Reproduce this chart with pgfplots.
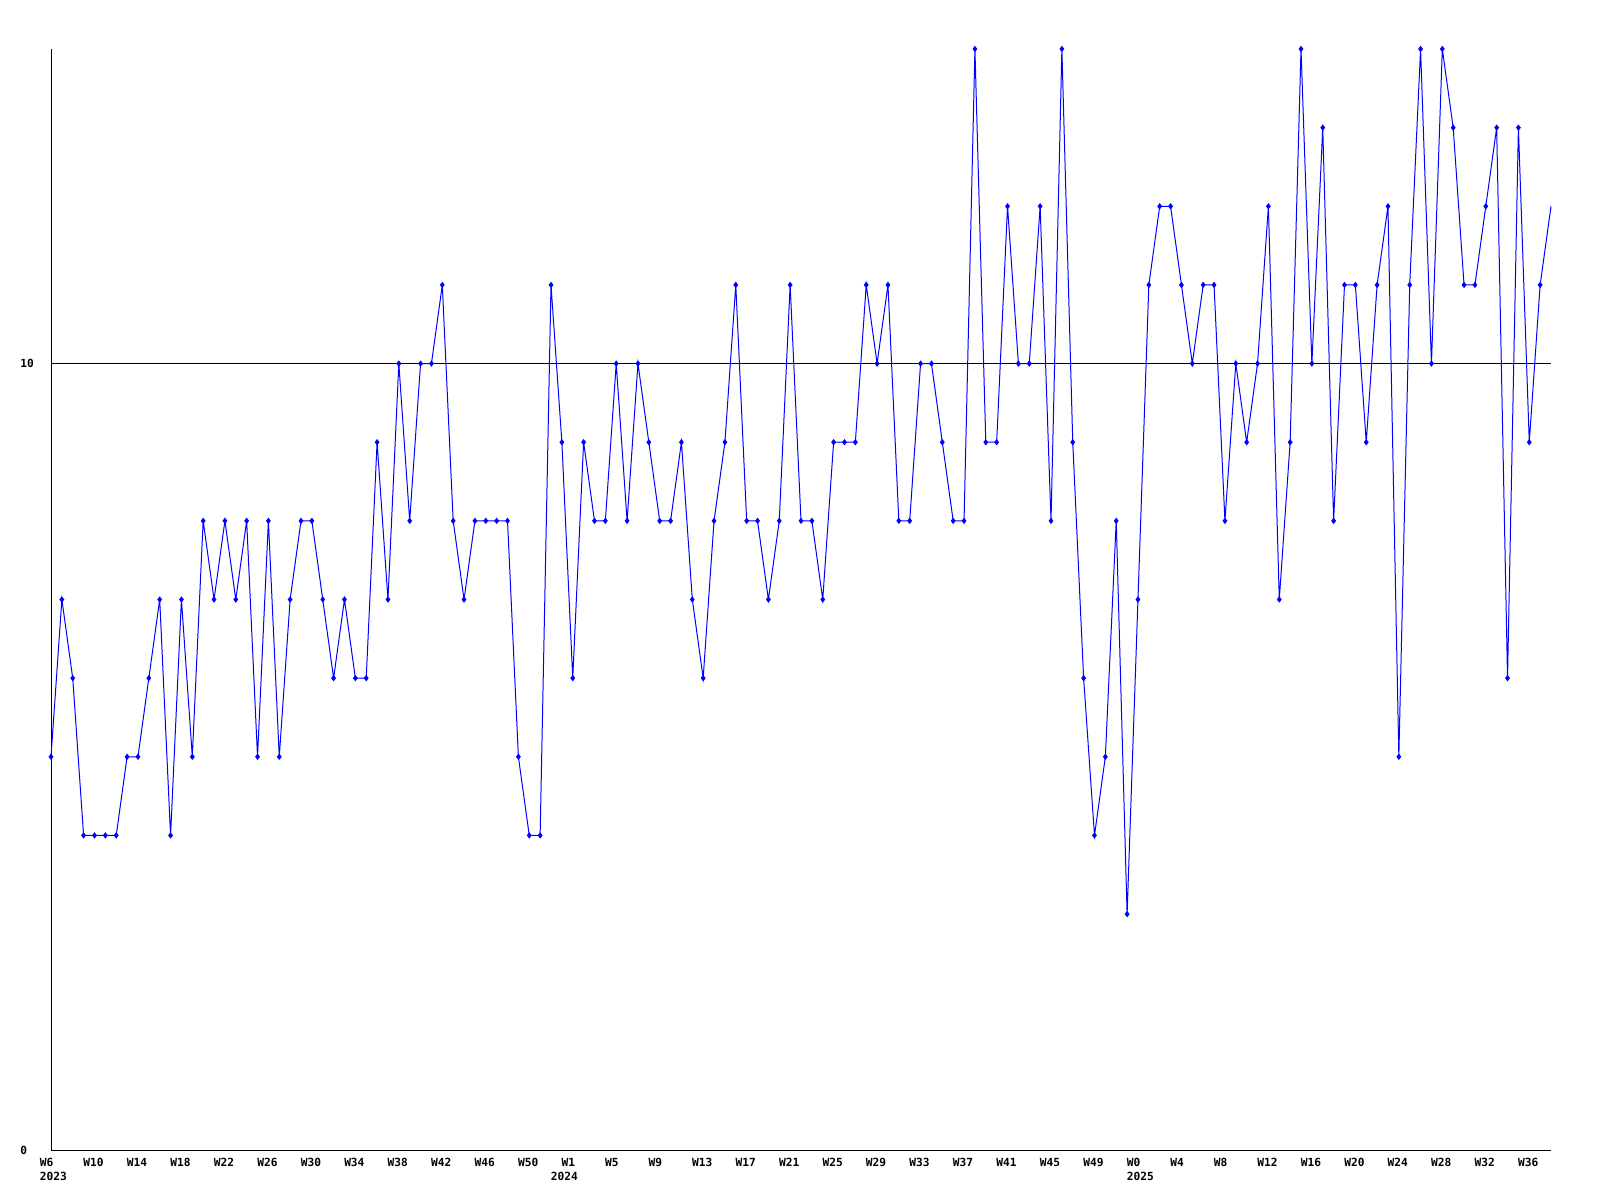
\documentclass[border=0pt]{standalone}
\usepackage{fontspec}
\setmonofont{DejaVu Sans Mono}
\usepackage{pgfplots}
\pgfplotsset{compat=1.18}
\definecolor{lineblue}{RGB}{0,0,255}

\begin{document}
\begin{tikzpicture}
% 1 px of the 1600x1200 reference = 0.5pt
\path (0,0) rectangle (800pt,600pt);
\begin{axis}[
  at={(25.5pt,25pt)}, anchor=south west,
  scale only axis,
  width=750pt, height=550.5pt,
  xmin=0, xmax=138,
  ymin=0, ymax=14,
  axis x line=bottom, axis y line=left,
  axis line style={-, black, line width=0.5pt},
  major tick length=0pt,
  ytick={0,10}, yticklabels={0,10},
  ymajorgrids, grid style={black, line width=0.5pt},
  xtick={0,4,...,136},
  xticklabels={W6,W10,W14,W18,W22,W26,W30,W34,W38,W42,W46,W50,
    W1,W5,W9,W13,W17,W21,W25,W29,W33,W37,W41,W45,W49,
    W0,W4,W8,W12,W16,W20,W24,W28,W32,W36},
  extra x ticks={0,47,100},
  extra x tick labels={2023,2024,2025},
  extra x tick style={tick label style={yshift=-7pt}},
  xticklabel style={anchor=north west, inner sep=0pt,
    xshift=-5.75pt, yshift=-4.1pt,
    font=\fontsize{5.6}{7}\selectfont\ttfamily\bfseries},
  yticklabel style={anchor=west, inner sep=0pt, xshift=-15.5pt,
    font=\fontsize{5.6}{7}\selectfont\ttfamily\bfseries},
  clip=false,
]
\addplot[lineblue, line width=0.5pt, mark=diamond*, mark size=1.2pt,
  mark indices={1,...,138},
  mark options={solid, fill=lineblue}] coordinates {
(0,5)(1,7)(2,6)(3,4)(4,4)(5,4)(6,4)(7,5)(8,5)(9,6)
(10,7)(11,4)(12,7)(13,5)(14,8)(15,7)(16,8)(17,7)(18,8)(19,5)
(20,8)(21,5)(22,7)(23,8)(24,8)(25,7)(26,6)(27,7)(28,6)(29,6)
(30,9)(31,7)(32,10)(33,8)(34,10)(35,10)(36,11)(37,8)(38,7)(39,8)
(40,8)(41,8)(42,8)(43,5)(44,4)(45,4)(46,11)(47,9)(48,6)(49,9)
(50,8)(51,8)(52,10)(53,8)(54,10)(55,9)(56,8)(57,8)(58,9)(59,7)
(60,6)(61,8)(62,9)(63,11)(64,8)(65,8)(66,7)(67,8)(68,11)(69,8)
(70,8)(71,7)(72,9)(73,9)(74,9)(75,11)(76,10)(77,11)(78,8)(79,8)
(80,10)(81,10)(82,9)(83,8)(84,8)(85,14)(86,9)(87,9)(88,12)(89,10)
(90,10)(91,12)(92,8)(93,14)(94,9)(95,6)(96,4)(97,5)(98,8)(99,3)
(100,7)(101,11)(102,12)(103,12)(104,11)(105,10)(106,11)(107,11)(108,8)(109,10)
(110,9)(111,10)(112,12)(113,7)(114,9)(115,14)(116,10)(117,13)(118,8)(119,11)
(120,11)(121,9)(122,11)(123,12)(124,5)(125,11)(126,14)(127,10)(128,14)(129,13)
(130,11)(131,11)(132,12)(133,13)(134,6)(135,13)(136,9)(137,11)(138,12)
};
\end{axis}
\end{tikzpicture}
\end{document}
